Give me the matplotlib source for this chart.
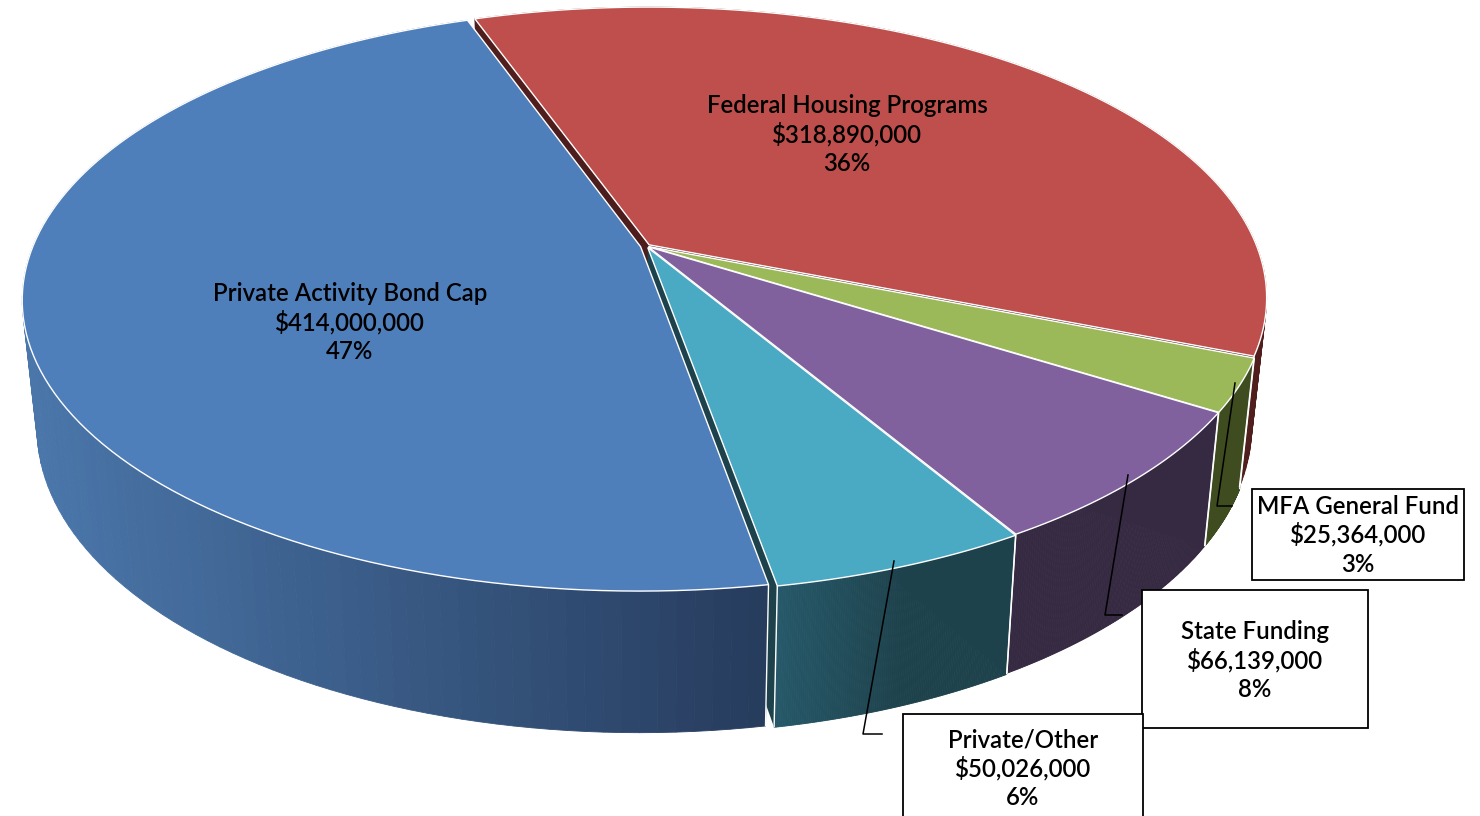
import numpy as np
import matplotlib
matplotlib.use('Agg')
import matplotlib.pyplot as plt
from matplotlib.colors import to_rgb

# ------  data  ------

names = ['Private Activity Bond Cap', 'Private/Other', 'State Funding', 'MFA General Fund', 'Federal Housing Programs']
amounts = [414000000, 50026000, 66139000, 25364000, 318890000]

top_colors = ['#4f7fbb', '#4aa9c3', '#80619e', '#9bb958', '#bf4f4c']
wall_left = ['#4a76aa', '#26596a', '#352a42', '#3f4c20', '#521f1e']
wall_right = ['#263b5c', '#1e424c', '#352a42', '#3f4c20', '#4c1d1c']

# ------  projection of the tilted disc, in picture pixels  ------

X0, Y0, A, B, K = 646.5, 246., 607.6, 281.4, -0.182
S, BX, D, C = 0.976, 643., 1.045, 115.
START = -109.6     # degrees, where the first slice starts
EXPLODE = [0.010, 0.006, 0.004, 0.004, 0.006]


def project(x, y):
    den = 1 + K * y
    return X0 + A * x / den, Y0 + B * y / den


def drop(px, py):
    return BX + S * (px - BX), C + D * py


def blend(c1, c2, t):
    c1, c2 = np.array(to_rgb(c1)), np.array(to_rgb(c2))
    return tuple(c1 + (c2 - c1) * t)


fig = plt.figure(figsize=(14.8, 8.16), dpi=100)
ax = fig.add_axes([0, 0, 1, 1])
ax.set_xlim(0, 1480)
ax.set_ylim(816, 0)
ax.axis('off')

fracs = np.array(amounts) / float(sum(amounts))
sweeps = fracs * 360
starts = START - np.concatenate([[0], np.cumsum(sweeps)[:-1]])

# back to front: red first, blue last
for i in [4, 3, 2, 1, 0]:
    a = np.radians(np.linspace(starts[i], starts[i] - sweeps[i], 120))
    mid = (a[0] + a[-1]) / 2
    ox, oy = EXPLODE[i] * np.cos(mid), EXPLODE[i] * np.sin(mid)
    px, py = project(np.cos(a) + ox, np.sin(a) + oy)
    cx, cy = project(ox, oy)
    bx, by = drop(px, py)
    bcx, bcy = drop(cx, cy)

    # cut faces
    for j in [0, -1]:
        ax.fill([cx, px[j], bx[j], bcx], [cy, py[j], by[j], bcy], color=wall_right[i], lw=0)

    # outer wall, shaded by screen x
    for j in range(len(a) - 1):
        if i == 0:
            t = np.clip((px[j] - 30) / 740., 0, 1)
        elif i == 1:
            t = np.clip((px[j] - 776) / 130., 0, 1)
        else:
            t = 0.5
        c = blend(wall_left[i], wall_right[i], t)
        ax.fill([px[j], px[j + 1], bx[j + 1], bx[j]], [py[j], py[j + 1], by[j + 1], by[j]],
                facecolor=c, edgecolor=c, lw=0.6)

    for j in [0, -1]:
        if py[j] > 300:
            ax.plot([px[j], bx[j]], [py[j], by[j]], color='white', lw=1, solid_capstyle='butt')

    # top face
    ax.fill(np.r_[cx, px], np.r_[cy, py], facecolor=top_colors[i], edgecolor='white', lw=1, joinstyle='miter')

# ------  leader lines  ------

ax.plot([1235, 1217, 1232], [383, 506, 506], color='black', lw=1.1)
ax.plot([1128, 1105, 1122], [475, 615, 615], color='black', lw=1.1)
ax.plot([894, 863, 882], [561, 734, 734], color='black', lw=1.1)

# ------  label boxes  ------

boxes = {1: (903, 714, 1143, 830), 2: (1142, 590, 1368, 728), 3: (1252, 489, 1464, 580)}
for i in [3, 2, 1]:
    x1, y1, x2, y2 = boxes[i]
    ax.fill([x1, x2, x2, x1], [y1, y1, y2, y2], facecolor='white', edgecolor='black', lw=1.3)

centers = {0: (350, 322), 1: (1023, 768), 2: (1255, 660), 3: (1358, 535), 4: (847, 134)}
for i in range(5):
    lines = [names[i], '$' + format(amounts[i], ','), '%d%%' % round(fracs[i] * 100)]
    for k in range(3):
        ax.text(centers[i][0], centers[i][1] + 8 + (k - 1) * 29, lines[k], ha='center', va='baseline',
                family='Lato', fontsize=17.3, weight=600, color='black')

fig.savefig('out.png', dpi=100)
